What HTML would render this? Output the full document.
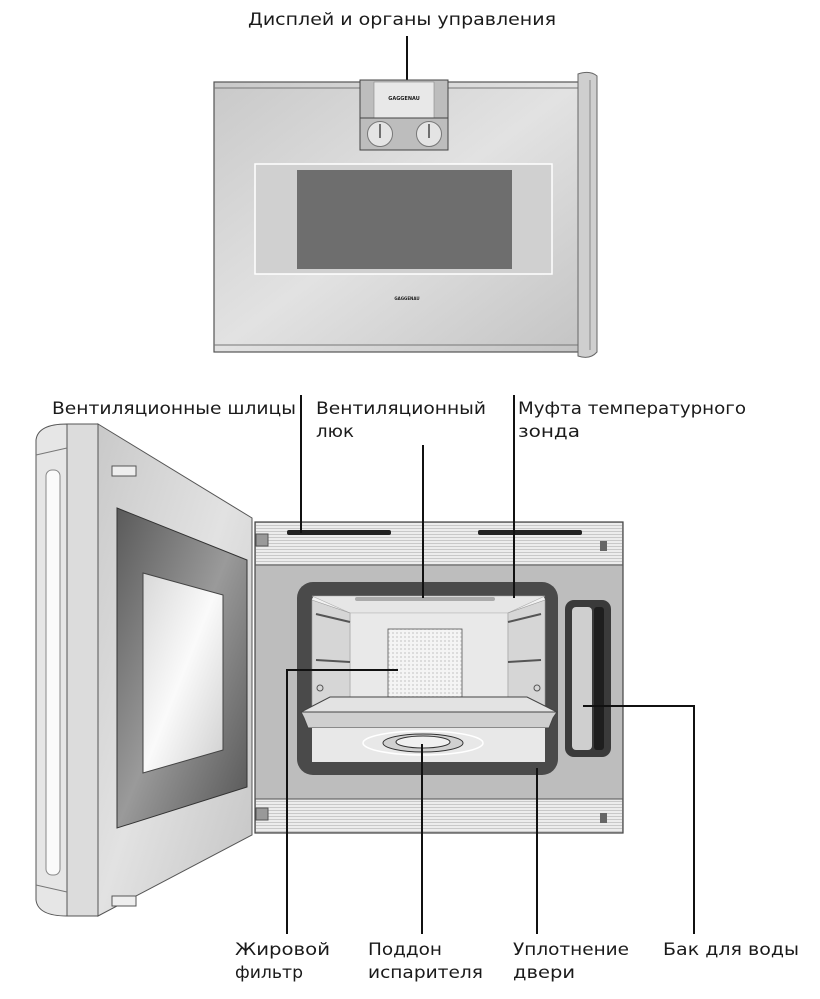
<!DOCTYPE html>
<html><head><meta charset="utf-8"><style>
html,body{margin:0;padding:0;background:#fff;}
svg{display:block;}
text{font-family:"DejaVu Sans","Liberation Sans",sans-serif;font-size:17px;fill:#1a1a1a;}
</style></head><body>
<svg width="820" height="999" viewBox="0 0 820 999" xmlns="http://www.w3.org/2000/svg">
<defs>
<linearGradient id="steel" x1="0" y1="0" x2="1" y2="1">
<stop offset="0" stop-color="#c9c9c9"/><stop offset="0.5" stop-color="#e2e2e2"/><stop offset="1" stop-color="#c4c4c4"/></linearGradient>
<linearGradient id="win" x1="0" y1="0" x2="1" y2="1">
<stop offset="0" stop-color="#5a5a5a"/><stop offset="0.5" stop-color="#9a9a9a"/><stop offset="1" stop-color="#555"/></linearGradient>
<linearGradient id="glass" x1="0" y1="0" x2="1" y2="1">
<stop offset="0" stop-color="#d8d8d8"/><stop offset="0.5" stop-color="#fafafa"/><stop offset="1" stop-color="#cfcfcf"/></linearGradient>
<linearGradient id="cav" x1="0" y1="0" x2="0" y2="1">
<stop offset="0" stop-color="#f2f2f2"/><stop offset="1" stop-color="#dadada"/></linearGradient>
<pattern id="lines" width="4" height="3" patternUnits="userSpaceOnUse"><rect width="4" height="3" fill="#ececec"/><rect width="4" height="1" fill="#c8c8c8"/></pattern>
<pattern id="mesh" width="4" height="4" patternUnits="userSpaceOnUse"><rect width="4" height="4" fill="#f4f4f4"/><rect width="2" height="2" fill="#dcdcdc"/></pattern>
</defs>

<text x="248" y="25" textLength="308" lengthAdjust="spacingAndGlyphs">Дисплей и органы управления</text>
<line x1="407" y1="36" x2="407" y2="100" stroke="#111" stroke-width="2"/>

<rect x="214" y="82" width="366" height="270" fill="url(#steel)" stroke="#555" stroke-width="1.2"/>
<line x1="214" y1="88" x2="580" y2="88" stroke="#777"/>
<line x1="214" y1="345" x2="580" y2="345" stroke="#777"/>
<path d="M578 74 Q590 70 597 76 L597 352 Q590 360 578 356 Z" fill="#cfcfcf" stroke="#666"/>
<line x1="590" y1="80" x2="590" y2="350" stroke="#888"/>
<rect x="360" y="80" width="88" height="70" fill="#bdbdbd" stroke="#444"/>
<rect x="374" y="82" width="60" height="36" fill="#e8e8e8" stroke="#888" stroke-width="0.6"/>
<text x="404" y="100" text-anchor="middle" style="font-size:5px;font-weight:bold">GAGGENAU</text>
<line x1="360" y1="118" x2="448" y2="118" stroke="#444"/>
<circle cx="380" cy="134" r="12.5" fill="#e4e4e4" stroke="#777"/>
<circle cx="429" cy="134" r="12.5" fill="#e4e4e4" stroke="#777"/>
<line x1="380" y1="124" x2="380" y2="138" stroke="#222" stroke-width="1.2"/>
<line x1="429" y1="124" x2="429" y2="138" stroke="#222" stroke-width="1.2"/>
<rect x="255" y="164" width="297" height="110" fill="#d0d0d0" stroke="#fff" stroke-width="1.5"/>
<rect x="297" y="170" width="215" height="99" fill="#6e6e6e"/>
<text x="407" y="300" text-anchor="middle" style="font-size:4px;font-weight:bold">GAGGENAU</text>

<text x="52" y="414" textLength="244" lengthAdjust="spacingAndGlyphs">Вентиляционные шлицы</text>
<text x="316" y="414" textLength="170" lengthAdjust="spacingAndGlyphs">Вентиляционный</text>
<text x="316" y="437" textLength="38" lengthAdjust="spacingAndGlyphs">люк</text>
<text x="518" y="414" textLength="228" lengthAdjust="spacingAndGlyphs">Муфта температурного</text>
<text x="518" y="437" textLength="62" lengthAdjust="spacingAndGlyphs">зонда</text>

<rect x="255" y="522" width="368" height="311" fill="#bdbdbd" stroke="#444" stroke-width="1.2"/>
<rect x="256" y="523" width="366" height="42" fill="url(#lines)"/>
<rect x="256" y="799" width="366" height="33" fill="url(#lines)"/>
<line x1="255" y1="565" x2="623" y2="565" stroke="#555"/>
<line x1="255" y1="799" x2="623" y2="799" stroke="#555"/>
<rect x="287" y="530" width="104" height="5" rx="2" fill="#222"/>
<rect x="478" y="530" width="104" height="5" rx="2" fill="#222"/>
<rect x="600" y="541" width="7" height="10" fill="#666"/>
<rect x="600" y="813" width="7" height="10" fill="#666"/>
<rect x="297" y="582" width="261" height="193" rx="16" fill="#4a4a4a"/>
<rect x="312" y="596" width="233" height="166" rx="4" fill="url(#cav)"/>
<path d="M312 596 L545 596 L508 613 L350 613 Z" fill="#e6e6e6" stroke="#aaa" stroke-width="0.6"/>
<rect x="355" y="597" width="140" height="4" rx="2" fill="#aaa"/>
<rect x="350" y="613" width="158" height="84" fill="#e9e9e9" stroke="#bbb" stroke-width="0.6"/>
<rect x="388" y="629" width="74" height="68" fill="url(#mesh)" stroke="#555" stroke-width="0.8"/>
<path d="M312 600 L350 613 L350 697 L312 720 Z" fill="#d6d6d6" stroke="#999" stroke-width="0.6"/>
<path d="M545 600 L508 613 L508 697 L545 720 Z" fill="#d6d6d6" stroke="#999" stroke-width="0.6"/>
<line x1="316" y1="614" x2="350" y2="622" stroke="#555" stroke-width="2"/>
<line x1="316" y1="660" x2="350" y2="662" stroke="#555" stroke-width="2"/>
<line x1="541" y1="614" x2="508" y2="622" stroke="#555" stroke-width="2"/>
<line x1="541" y1="660" x2="508" y2="662" stroke="#555" stroke-width="2"/>
<circle cx="320" cy="688" r="3" fill="none" stroke="#555"/>
<circle cx="537" cy="688" r="3" fill="none" stroke="#555"/>
<path d="M330 697 L527 697 L557 712 L301 712 Z" fill="#e3e3e3" stroke="#444"/>
<path d="M301 712 L557 712 L553 718 L549 728 L308 728 L304 718 Z" fill="#cfcfcf" stroke="#444"/>
<path d="M312 728 L545 728 L545 762 L312 762 Z" fill="#e8e8e8"/>
<ellipse cx="423" cy="743" rx="60" ry="12" fill="none" stroke="#fff" stroke-width="1.5"/>
<ellipse cx="423" cy="743" rx="40" ry="9" fill="#d0d0d0" stroke="#333"/>
<ellipse cx="423" cy="742" rx="27" ry="6" fill="#f0f0f0" stroke="#333"/>
<rect x="565" y="600" width="46" height="157" rx="9" fill="#3a3a3a"/>
<rect x="572" y="607" width="20" height="143" rx="4" fill="#cfcfcf"/>
<rect x="594" y="607" width="10" height="143" rx="3" fill="#1e1e1e"/>

<path d="M98 424 L252 518 L252 835 L98 916 Z" fill="url(#steel)" stroke="#555"/>
<rect x="67" y="424" width="31" height="492" fill="#dcdcdc" stroke="#555"/>
<path d="M36 440 Q38 424 67 424 L67 916 Q38 916 36 900 Z" fill="#e6e6e6" stroke="#555"/>
<rect x="46" y="470" width="14" height="405" rx="6" fill="#fafafa" stroke="#888"/>
<line x1="36" y1="455" x2="67" y2="448" stroke="#777"/>
<line x1="36" y1="885" x2="67" y2="892" stroke="#777"/>
<path d="M117 508 L247 560 L247 787 L117 828 Z" fill="url(#win)" stroke="#333"/>
<path d="M143 573 L223 595 L223 750 L143 773 Z" fill="url(#glass)" stroke="#444"/>
<rect x="112" y="466" width="24" height="10" fill="#eee" stroke="#555"/>
<rect x="112" y="896" width="24" height="10" fill="#eee" stroke="#555"/>
<rect x="256" y="534" width="12" height="12" fill="#999" stroke="#555"/>
<rect x="256" y="808" width="12" height="12" fill="#999" stroke="#555"/>

<g stroke="#111" stroke-width="2" fill="none">
<line x1="301" y1="395" x2="301" y2="533"/>
<line x1="423" y1="445" x2="423" y2="598"/>
<line x1="514" y1="395" x2="514" y2="598"/>
<polyline points="398,670 287,670 287,934"/>
<line x1="422" y1="744" x2="422" y2="934"/>
<line x1="537" y1="768" x2="537" y2="934"/>
<polyline points="583,706 694,706 694,934"/>
</g>

<text x="235" y="955" textLength="95" lengthAdjust="spacingAndGlyphs">Жировой</text>
<text x="235" y="978" textLength="68" lengthAdjust="spacingAndGlyphs">фильтр</text>
<text x="368" y="955" textLength="74" lengthAdjust="spacingAndGlyphs">Поддон</text>
<text x="368" y="978" textLength="115" lengthAdjust="spacingAndGlyphs">испарителя</text>
<text x="513" y="955" textLength="116" lengthAdjust="spacingAndGlyphs">Уплотнение</text>
<text x="513" y="978" textLength="62" lengthAdjust="spacingAndGlyphs">двери</text>
<text x="663" y="955" textLength="136" lengthAdjust="spacingAndGlyphs">Бак для воды</text>
</svg>
</body></html>
